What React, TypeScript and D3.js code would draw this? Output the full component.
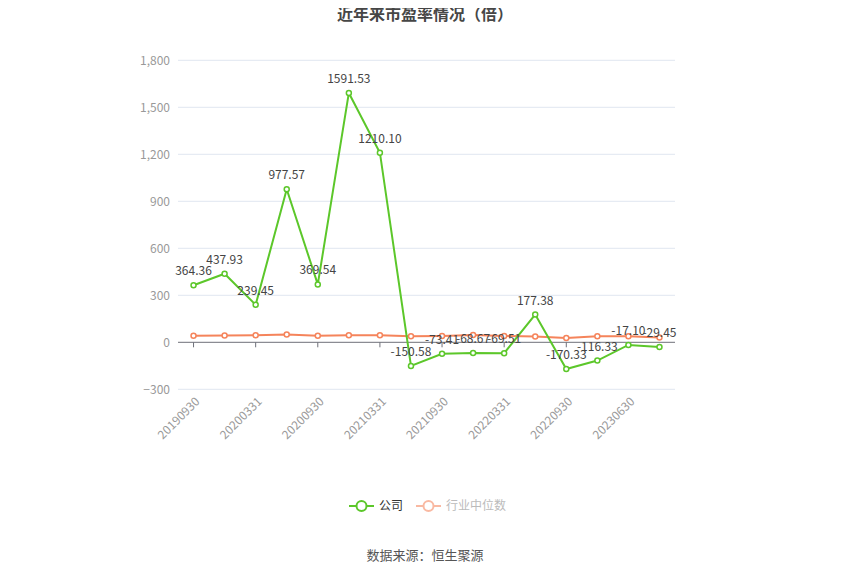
import { useEffect, useRef } from 'react';
import * as d3 from 'd3';

const dates = [
  '20190930', '20191231', '20200331', '20200630', '20200930', '20201231',
  '20210331', '20210630', '20210930', '20211231', '20220331', '20220630',
  '20220930', '20221231', '20230630', '20230930',
];
const companyPE = [
  364.36, 437.93, 239.45, 977.57, 369.54, 1591.53, 1210.1, -150.58,
  -73.41, -68.67, -69.51, 177.38, -170.33, -116.33, -17.1, -29.45,
];
const industryPE = [42, 43, 45, 49, 42, 45, 45, 38, 40, 46, 40, 37, 28, 38, 38, 31];
const yTicks = [-300, 0, 300, 600, 900, 1200, 1500, 1800];

const GREEN = '#5cc72a';
const ORANGE = '#f5845b';

export default function App() {
  const svgRef = useRef<SVGSVGElement>(null);

  useEffect(() => {
    if (!svgRef.current) return;
    const width = 850;
    const height = 575;
    const svg = d3.select(svgRef.current);
    svg.selectAll('*').remove();

    const left = 178, right = 675, top = 60.3, bottom = 389.3;
    const x = d3.scaleBand<string>().domain(dates).range([left, right]);
    const cx = (d: string) => (x(d) as number) + x.bandwidth() / 2;
    const y = d3.scaleLinear().domain([-300, 1800]).range([bottom, top]);

    svg.append('text')
      .attr('x', width / 2).attr('y', 20)
      .attr('text-anchor', 'middle')
      .attr('font-size', 16).attr('font-weight', 'bold')
      .attr('fill', '#464646')
      .text('近年来市盈率情况（倍）');

    // grid + y labels
    const yAxis = svg.append('g');
    yTicks.forEach(t => {
      if (t !== 0) {
        yAxis.append('line')
          .attr('x1', left).attr('x2', right)
          .attr('y1', y(t)).attr('y2', y(t))
          .attr('stroke', '#e0e6f1').attr('stroke-width', 1);
      }
      yAxis.append('text')
        .attr('x', 170).attr('y', y(t))
        .attr('dy', '0.35em')
        .attr('text-anchor', 'end')
        .attr('font-size', 12).attr('fill', '#999')
        .text(d3.format(',')(t));
    });

    // x axis line at 0
    svg.append('line')
      .attr('x1', left).attr('x2', right)
      .attr('y1', y(0)).attr('y2', y(0))
      .attr('stroke', '#6e7079').attr('stroke-width', 1);

    dates.forEach((d, i) => {
      if (i % 2 !== 0) return;
      svg.append('line')
        .attr('x1', cx(d)).attr('x2', cx(d))
        .attr('y1', y(0)).attr('y2', y(0) + 5)
        .attr('stroke', '#6e7079');
      svg.append('text')
        .attr('transform', `translate(${cx(d) + 4},${bottom + 10}) rotate(-45)`)
        .attr('text-anchor', 'end')
        .attr('dy', '0.35em')
        .attr('font-size', 12).attr('fill', '#999')
        .text(d);
    });

    const line = d3.line<number>()
      .x((_v, i) => cx(dates[i]))
      .y(v => y(v));

    svg.append('path').datum(industryPE)
      .attr('d', line).attr('fill', 'none')
      .attr('stroke', ORANGE).attr('stroke-width', 2);
    svg.append('g').selectAll('circle').data(industryPE).join('circle')
      .attr('cx', (_v, i) => cx(dates[i])).attr('cy', v => y(v))
      .attr('r', 2.5).attr('fill', '#fff')
      .attr('stroke', ORANGE).attr('stroke-width', 1.5);

    svg.append('path').datum(companyPE)
      .attr('d', line).attr('fill', 'none')
      .attr('stroke', GREEN).attr('stroke-width', 2);
    svg.append('g').selectAll('circle').data(companyPE).join('circle')
      .attr('cx', (_v, i) => cx(dates[i])).attr('cy', v => y(v))
      .attr('r', 2.5).attr('fill', '#fff')
      .attr('stroke', GREEN).attr('stroke-width', 1.5);

    svg.append('g').selectAll('text').data(companyPE).join('text')
      .attr('x', (_v, i) => cx(dates[i])).attr('y', v => y(v) - 10)
      .attr('text-anchor', 'middle')
      .attr('font-size', 12).attr('fill', '#444')
      .text(v => v.toFixed(2));

    // legend
    const legend = svg.append('g');
    const items = [
      { name: '公司', color: GREEN, text: '#333', x: 349 },
      { name: '行业中位数', color: '#f9b9a2', text: '#bbb', x: 416 },
    ];
    items.forEach(it => {
      legend.append('line')
        .attr('x1', it.x).attr('x2', it.x + 25)
        .attr('y1', 506).attr('y2', 506)
        .attr('stroke', it.color).attr('stroke-width', 2);
      legend.append('circle')
        .attr('cx', it.x + 12.5).attr('cy', 506).attr('r', 5)
        .attr('fill', '#fff').attr('stroke', it.color).attr('stroke-width', 2);
      legend.append('text')
        .attr('x', it.x + 30).attr('y', 506).attr('dy', '0.35em')
        .attr('font-size', 12).attr('fill', it.text)
        .text(it.name);
    });

    svg.append('text')
      .attr('x', width / 2).attr('y', 555).attr('dy', '0.35em')
      .attr('text-anchor', 'middle')
      .attr('font-size', 13).attr('fill', '#555')
      .text('数据来源：恒生聚源');
  }, []);

  return (
    <svg
      ref={svgRef}
      width={850}
      height={575}
      style={{ display: 'block', margin: -8, fontFamily: '"Microsoft YaHei", "Noto Sans CJK SC", sans-serif', background: '#fff' }}
    />
  );
}
